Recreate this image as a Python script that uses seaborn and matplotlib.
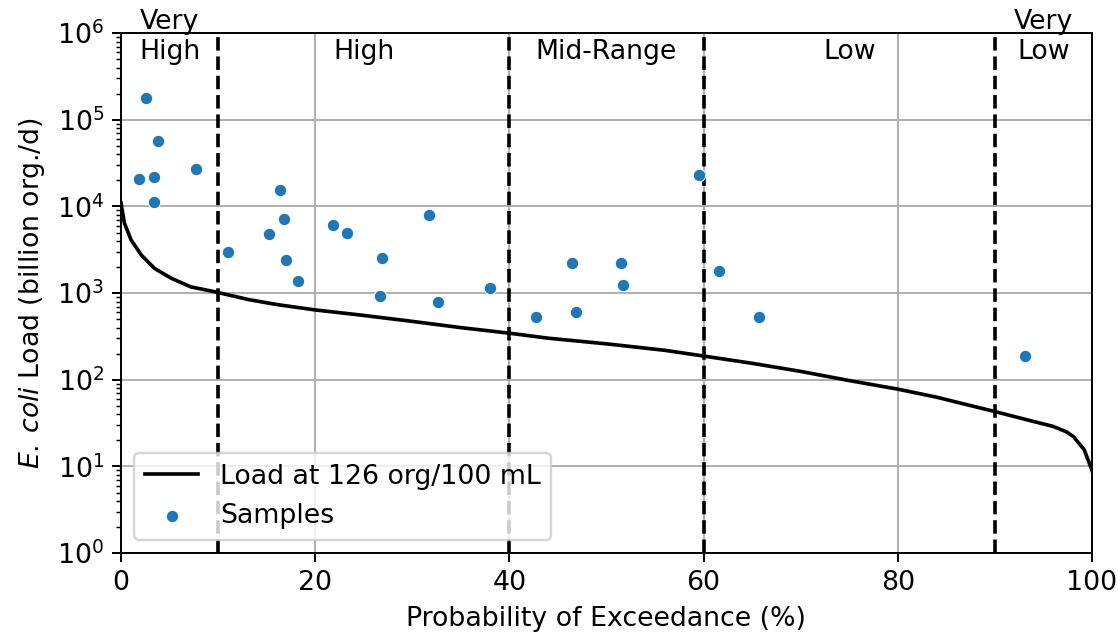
import numpy as np
import pandas as pd
import matplotlib
matplotlib.use("Agg")
import matplotlib.pyplot as plt
import seaborn as sns

plt.rcParams["font.size"] = 11

# ------------------ Load duration curve ------------------
curve_pct = [0, 0.36, 1.05, 2.1, 3.45, 5.2, 7.2, 9.6, 13.2, 16, 20, 24.6,
             30, 35, 40, 44, 50, 56, 60, 65, 70, 75, 80, 84, 87, 90, 94, 96,
             97.4, 98.1, 99.2, 100]
curve_load = [1.1e4, 6.4e3, 4.1e3, 2.75e3, 1.93e3, 1.48e3, 1.18e3, 1.04e3,
              840, 740, 640, 560, 472, 400, 345, 302, 260, 219, 188, 155, 125, 98,
              78, 63, 52, 43, 33, 29, 25, 22, 15.6, 9]

# ------------------ Samples ------------------
sample_pct = [2.6, 3.8, 1.9, 3.4, 3.4, 7.7, 11.0, 16.4, 16.8, 15.2, 17.0, 18.2,
              21.8, 23.3, 26.9, 26.7, 31.7, 32.7, 38.0, 42.7, 46.5, 46.9, 51.5,
              51.7, 59.5, 61.6, 65.7, 93.1]
sample_load = [1.77e5, 5.7e4, 2.07e4, 2.18e4, 1.13e4, 2.68e4, 2.98e3, 1.53e4,
               7.1e3, 4.76e3, 2.41e3, 1.39e3, 6.1e3, 4.97e3, 2.56e3, 927, 7.9e3,
               789, 1.15e3, 530, 2.21e3, 611, 2.21e3, 1.25e3, 2.3e4, 1.8e3, 530, 188]

# ------------------ Flow zones ------------------
zone_edges = [10, 40, 60, 90]
zone_mid = [5, 25, 50, 75, 95]
zone_names = ["Very\nHigh", "High", "Mid-Range", "Low", "Very\nLow"]

curve_df = pd.DataFrame({"pct": curve_pct, "load": curve_load})
samp_df = pd.DataFrame({"pct": sample_pct, "load": sample_load})

fig, ax = plt.subplots(figsize=(6.4, 3.646), dpi=175)
fig.subplots_adjust(left=0.108, right=0.975, top=0.948, bottom=0.133)

sns.lineplot(data=curve_df, x="pct", y="load", color="black", lw=1.5,
             label="Load at 126 org/100 mL", ax=ax, zorder=3)
sns.scatterplot(data=samp_df, x="pct", y="load", color="#1f77b4", s=26,
                label="Samples", ax=ax, zorder=4)

for xe in zone_edges:
    ax.axvline(xe, color="black", ls="--", lw=1.5, zorder=2)

for xm, name in zip(zone_mid, zone_names):
    ax.text(xm, 4.3e5, name, ha="center", va="bottom")

ax.set_yscale("log")
ax.set_ylim(1, 1e6)
ax.set_xlim(0, 100)
ax.set_xticks([0, 20, 40, 60, 80, 100])
ax.set_yticks([10.0 ** k for k in range(7)])
ax.grid(True, which="major", color="#b0b0b0", lw=0.8)
ax.set_axisbelow(True)

ax.set_xlabel("Probability of Exceedance (%)")
ax.set_ylabel(r"$\mathit{E.\:coli}$ Load (billion org./d)")
ax.legend(loc="lower left")

fig.savefig("out.png", dpi=175)
